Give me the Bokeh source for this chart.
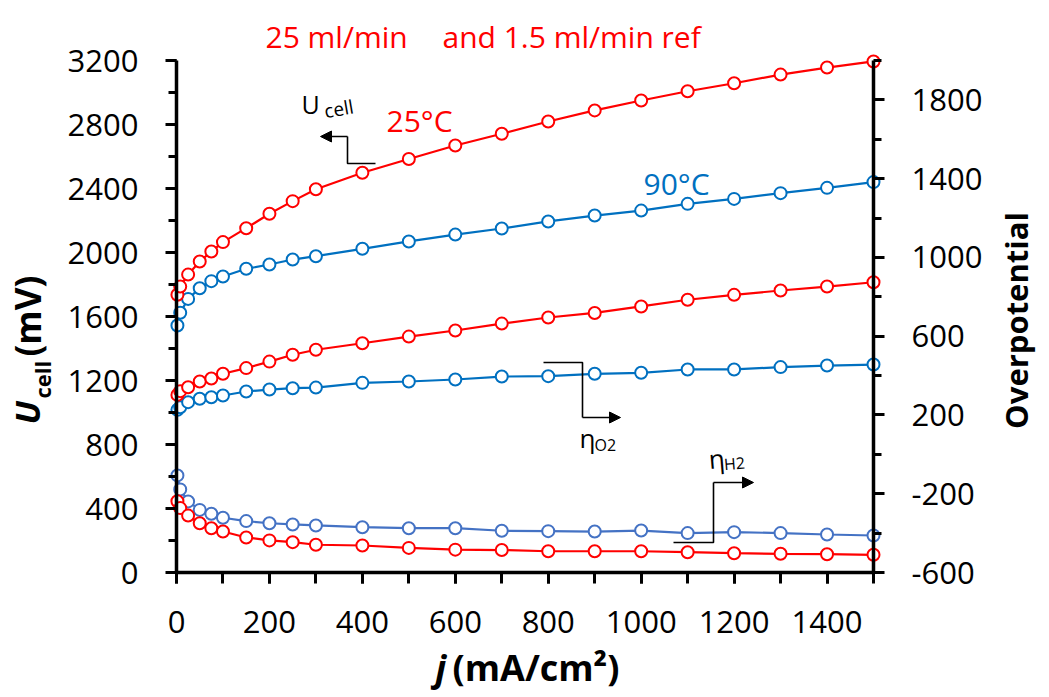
import math
from bokeh.plotting import figure
from bokeh.models import Range1d, LinearAxis, FixedTicker, Label, Arrow, NormalHead
from bokeh.embed import file_html
from bokeh.resources import INLINE

# ---------------- data ----------------
j = [2, 8, 25, 50, 75, 100, 150, 200, 250, 300, 400, 500, 600, 700, 800, 900,
     1000, 1100, 1200, 1300, 1400, 1500]

ucell_25 = [1736, 1787, 1862, 1944, 2006, 2065, 2152, 2242, 2321, 2395, 2498, 2584,
            2669, 2742, 2819, 2888, 2950, 3008, 3058, 3112, 3156, 3194]
ucell_90 = [1544, 1623, 1710, 1777, 1821, 1850, 1898, 1925, 1956, 1977, 2023, 2069,
            2112, 2150, 2194, 2231, 2262, 2304, 2335, 2371, 2404, 2440]
eta_o2_25 = [302, 321, 341, 370, 385, 409, 438, 471, 506, 531, 564, 598,
             629, 664, 695, 718, 751, 785, 810, 832, 852, 874]
eta_o2_90 = [226, 239, 265, 282, 290, 299, 319, 329, 336, 339, 363, 370,
             380, 395, 397, 409, 414, 431, 431, 443, 451, 456]
eta_h2_25 = [-238, -273, -311, -350, -375, -392, -422, -437, -446, -459, -463, -475,
             -484, -486, -492, -492, -492, -497, -502, -505, -507, -510]
eta_h2_90 = [-107, -178, -239, -282, -302, -322, -339, -350, -356, -361, -370, -375,
             -375, -388, -390, -392, -387, -400, -395, -400, -407, -412]

left_ticks = [0, 400, 800, 1200, 1600, 2000, 2400, 2800, 3200]
left_minor = list(range(0, 3201, 200))
right_ticks = [-600, -200, 200, 600, 1000, 1400, 1800]
right_minor = list(range(-600, 2001, 200))
x_ticks = [0, 200, 400, 600, 800, 1000, 1200, 1400]
x_minor = list(range(0, 1501, 100))

X_MAX = 1500
Y_MAX = 3200
OP_MIN, OP_MAX = -600, 2000

title_left = "25 ml/min"
title_right = "and 1.5 ml/min ref"

# ---------------- layout / styling ----------------
RED = "#FF0000"
BLUE = "#0070C0"
BLUE2 = "#4472C4"
FONT = "Open Sans"

W, H = 1045, 696
# pixel box of the data area (x: 0..1500, y: 0..3200)
AX_L, AX_R, AX_T, AX_B = 176, 873, 60, 572
K_X = (AX_R - AX_L) / X_MAX
K_Y = (AX_B - AX_T) / Y_MAX
x_start = -AX_L / K_X
x_end = X_MAX + (W - AX_R) / K_X
y_start = -(H - AX_B) / K_Y
y_end = Y_MAX + AX_T / K_Y
OP_K = (OP_MAX - OP_MIN) / Y_MAX
op_start = OP_MIN + y_start * OP_K
op_end = OP_MIN + y_end * OP_K

p = figure(width=W, height=H, x_range=Range1d(x_start, x_end),
           y_range=Range1d(y_start, y_end), output_backend="svg",
           toolbar_location=None, min_border=0)
p.title.visible = False
p.extra_y_ranges = {"op": Range1d(op_start, op_end)}
p.xgrid.visible = False
p.ygrid.visible = False
p.outline_line_color = None


def style(ax, ticks, minor_out=8):
    ax.axis_line_width = 3.5
    ax.axis_line_color = "black"
    ax.major_tick_line_width = 3
    ax.minor_tick_line_width = 3
    ax.major_tick_line_color = "black"
    ax.minor_tick_line_color = "black"
    ax.major_tick_out = 11
    ax.major_tick_in = 0
    ax.minor_tick_out = minor_out
    ax.minor_tick_in = 0
    ax.major_label_text_font = FONT
    ax.major_label_text_font_size = "31px"
    ax.major_label_text_color = "black"
    ax.major_label_standoff = 27
    ax.major_label_overrides = {t: str(t) for t in ticks}


yl = p.yaxis[0]
yl.ticker = FixedTicker(ticks=left_ticks, minor_ticks=left_minor)
yl.bounds = (0, Y_MAX)
yl.fixed_location = 0
style(yl, left_ticks)

xa = p.xaxis[0]
xa.ticker = FixedTicker(ticks=x_ticks, minor_ticks=x_minor)
xa.bounds = (0, X_MAX)
xa.fixed_location = 0
style(xa, x_ticks, minor_out=11)

yr = LinearAxis(y_range_name="op",
                ticker=FixedTicker(ticks=right_ticks, minor_ticks=right_minor))
yr.bounds = (OP_MIN, OP_MAX)
yr.fixed_location = X_MAX
style(yr, right_ticks)
p.add_layout(yr, "right")


def series(ys, color, rng=None):
    kw = {} if rng is None else {"y_range_name": rng}
    p.line(j, ys, line_color=color, line_width=2.2, **kw)
    p.scatter(j, ys, marker="circle", size=12, line_color=color, line_width=2,
              fill_color="white", **kw)


series(ucell_90, BLUE)
series(ucell_25, RED)
series(eta_o2_90, BLUE, "op")
series(eta_o2_25, RED, "op")
series(eta_h2_90, BLUE2, "op")
series(eta_h2_25, RED, "op")


# ---------------- annotations (page pixel positions) ----------------
def dx(px):
    return (px - AX_L) / K_X


def dy(py):
    return (AX_B - py) / K_Y


BASE_SHIFT = 0.33   # empirical baseline correction (in em)


def lab(x, y, text, fs, color="black", font_style="normal", angle=0.0,
        align="left"):
    s = BASE_SHIFT * fs
    ax_ = x - s * math.sin(angle)
    ay_ = y - s * math.cos(angle)
    p.add_layout(Label(x=dx(ax_), y=dy(ay_), text=text, text_font=FONT,
                       text_font_size=f"{fs}px", text_color=color,
                       text_font_style=font_style, text_baseline="alphabetic",
                       text_align=align, angle=angle))


lab(265, 46, title_left, 30, RED)
lab(442, 46, title_right, 30, RED)
lab(386, 130, "25°C", 30, RED)
lab(643, 193, "90°C", 30, BLUE)

lab(301, 112, "U", 25)
lab(325, 117, "cell", 19, angle=0.17)
lab(579, 446, "η", 26)
lab(594, 450, "O2", 16)
lab(709, 467, "η", 26, angle=0.08)
lab(724, 469, "H2", 16, angle=0.08)

# axis titles
lab(435, 679, "j", 36, font_style="bold italic")
lab(452, 679, "(mA/cm²)", 36, font_style="bold")
lab(38, 424, "U", 34, font_style="bold italic", angle=math.pi / 2)
lab(49, 398, "cell", 22, font_style="bold", angle=math.pi / 2)
lab(39, 356, "(mV)", 35, font_style="bold", angle=math.pi / 2)
lab(1026, 320, "Overpotential", 31, font_style="bold", angle=math.pi / 2,
    align="center")

paths = [
    [(375, 163), (347, 163), (347, 136), (320, 136)],
    [(543, 362), (582, 362), (582, 417), (620, 417)],
    [(673, 542), (713, 542), (713, 482), (753, 482)],
]
for path in paths:
    p.line([dx(a) for a, b in path[:-1]], [dy(b) for a, b in path[:-1]],
           line_color="black", line_width=1.6)
    (x0, y0), (x1, y1) = path[-2], path[-1]
    p.add_layout(Arrow(end=NormalHead(size=11, fill_color="black", line_color="black"),
                       x_start=dx(x0), y_start=dy(y0), x_end=dx(x1), y_end=dy(y1),
                       line_color="black", line_width=1.6))

open("out.html", "w").write(file_html(p, INLINE))
